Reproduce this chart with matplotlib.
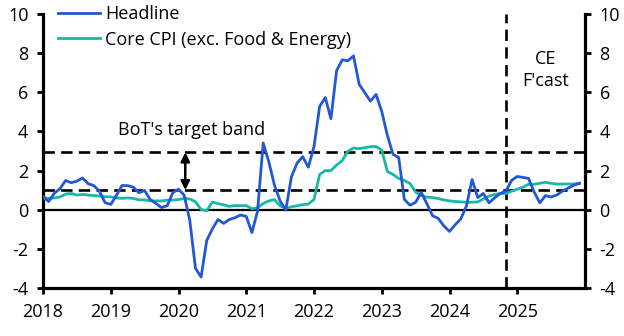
import matplotlib
matplotlib.use("Agg")
import matplotlib.pyplot as plt
import numpy as np

# ---- data (monthly, Jan 2018 - Dec 2025) ----
start_year = 2018
headline = [
    0.68, 0.42, 0.84, 1.07, 1.49, 1.38, 1.46, 1.62, 1.33, 1.23, 0.94, 0.36,
    0.27, 0.73, 1.24, 1.23, 1.15, 0.87, 0.98, 0.52, 0.32, 0.11, 0.21, 0.87,
    1.05, 0.74, -0.54, -2.99, -3.44, -1.57, -0.98, -0.50, -0.70, -0.50, -0.41, -0.27,
    -0.34, -1.17, -0.08, 3.41, 2.44, 1.25, 0.45, -0.02, 1.68, 2.38, 2.71, 2.17,
    3.23, 5.28, 5.73, 4.65, 7.10, 7.66, 7.61, 7.86, 6.41, 5.98, 5.55, 5.89,
    5.02, 3.79, 2.83, 2.67, 0.53, 0.23, 0.38, 0.88, 0.30, -0.31, -0.44, -0.83,
    -1.11, -0.77, -0.47, 0.19, 1.54, 0.62, 0.83, 0.35, 0.61, 0.83, 0.95, 1.50,
    1.70, 1.65, 1.60, 0.90, 0.35, 0.72, 0.65, 0.75, 0.95, 1.10, 1.25, 1.35,
]
core = [
    0.60, 0.58, 0.60, 0.65, 0.80, 0.83, 0.75, 0.78, 0.75, 0.72, 0.70, 0.66,
    0.66, 0.60, 0.58, 0.60, 0.58, 0.50, 0.50, 0.45, 0.45, 0.45, 0.49, 0.49,
    0.52, 0.57, 0.55, 0.41, 0.01, -0.05, 0.39, 0.31, 0.25, 0.17, 0.21, 0.21,
    0.21, 0.05, 0.10, 0.32, 0.45, 0.52, 0.20, 0.06, 0.15, 0.20, 0.26, 0.29,
    0.52, 1.80, 2.00, 2.00, 2.28, 2.51, 2.99, 3.15, 3.12, 3.17, 3.22, 3.23,
    3.04, 1.95, 1.80, 1.60, 1.50, 1.34, 0.90, 0.72, 0.64, 0.62, 0.57, 0.50,
    0.45, 0.42, 0.40, 0.38, 0.38, 0.40, 0.55, 0.70, 0.78, 0.83, 0.83, 0.95,
    1.05, 1.15, 1.30, 1.30, 1.35, 1.40, 1.35, 1.31, 1.31, 1.31, 1.32, 1.33,
]
year_ticks = [2018, 2019, 2020, 2021, 2022, 2023, 2024, 2025]
y_ticks = [-4, -2, 0, 2, 4, 6, 8, 10]
band_low, band_high = 1.0, 2.93
forecast_start = 2018 + 82 / 12  # Nov 2024
series_labels = ["Headline", "Core CPI (exc. Food & Energy)"]

x = start_year + np.arange(len(headline)) / 12

plt.rcParams['font.family'] = ['Open Sans', 'DejaVu Sans']
FS = 13
fig = plt.figure(figsize=(6.24, 3.36), dpi=100)
ax = fig.add_axes([43 / 624, 1 - 288 / 336, (585 - 43) / 624, (288 - 14) / 336])

blue = '#2257D6'
teal = '#17B8A6'
ax.plot(x, headline, color=blue, lw=2.0, label=series_labels[0], zorder=4)
ax.plot(x, core, color=teal, lw=2.0, label=series_labels[1], zorder=3)

dash = (4.3, 2.4)
ax.axhline(band_high, color='black', lw=1.9, dashes=dash, zorder=2)
ax.axhline(band_low, color='black', lw=1.9, dashes=dash, zorder=2)
ax.axhline(0, color='black', lw=1.6, zorder=2)
ax.axvline(forecast_start, color='black', lw=1.9, dashes=dash, zorder=2)

ax.annotate('', xy=(2020.1, band_high), xytext=(2020.1, band_low),
            arrowprops=dict(arrowstyle='<|-|>', color='black', lw=1.8,
                            mutation_scale=13, shrinkA=0, shrinkB=0), zorder=5)
ax.text(2020.19, 4.05, "BoT's target band", ha='center', va='center', fontsize=FS)
ax.text(2025.42, 7.15, "CE\nF'cast", ha='center', va='center', fontsize=FS, linespacing=1.3)

ax.set_xlim(2018, 2026)
ax.set_ylim(-4, 10)
ax.set_xticks(year_ticks)
ax.set_xticklabels([str(y) for y in year_ticks])
ax.set_yticks(y_ticks)
ax.set_yticklabels([str(v) for v in y_ticks])
ax.tick_params(axis='both', direction='out', width=2.0, length=4.5, labelsize=FS)
ax.tick_params(axis='y', which='both', left=True, right=True, labelleft=True, labelright=True, pad=6)
ax.tick_params(axis='x', pad=6)

for s in ['left', 'right', 'bottom']:
    ax.spines[s].set_linewidth(2.3)
    ax.spines[s].set_color('black')
ax.spines['top'].set_visible(False)

leg = ax.legend(loc='upper left', bbox_to_anchor=(0.028, 1.033), frameon=False, fontsize=FS,
                handlelength=2.3, handletextpad=0.28, labelspacing=0.42, borderaxespad=0,
                borderpad=0)

fig.savefig('out.png', dpi=100)
